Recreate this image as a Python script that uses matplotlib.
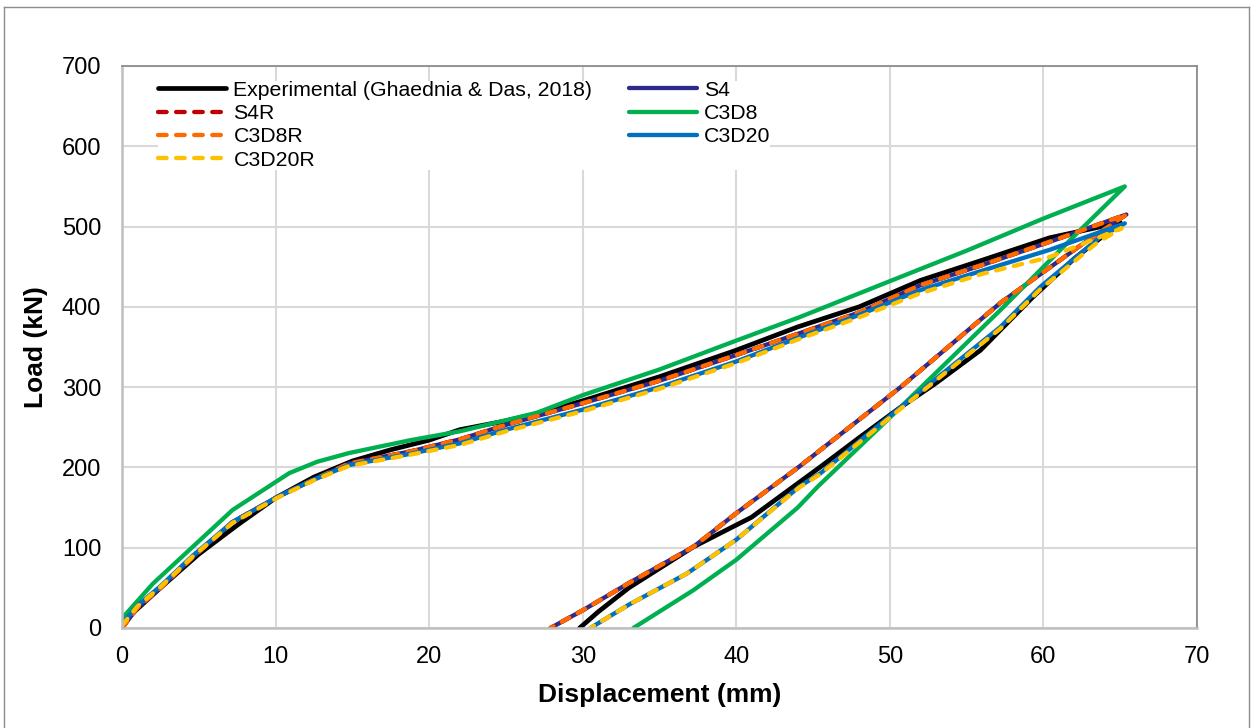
import matplotlib
matplotlib.use("Agg")
import matplotlib.pyplot as plt
from matplotlib.lines import Line2D

plt.rcParams['font.family'] = ['Liberation Sans', 'DejaVu Sans']

# ---------------- data (displacement mm, load kN) ----------------
exp_x = [0, 0.5, 2.5, 5, 7.5, 10, 12.5, 15, 17.5, 20, 22, 25, 27, 30, 35, 40, 44, 48, 52, 56, 60.4, 65,
         62, 59.3, 55.9, 53, 50.7, 48, 45.5, 41, 37.2, 33, 31, 29.8]
exp_y = [0, 15, 50, 92, 128, 162, 188, 208, 222, 234, 247, 258, 267, 283, 313, 346, 375, 400, 433, 458, 486, 505,
         460, 412, 346, 305, 275, 237, 201, 138, 101, 50, 20, 0]

s4_x = [0, 1, 2.5, 4.6, 7.2, 10.1, 12.5, 14.8, 18.8, 22, 25, 30, 35, 40, 44.1, 48, 52, 56, 60.4, 65.4,
        62.6, 57.2, 50.7, 44.1, 40, 37.2, 33.1, 30, 27.9]
s4_y = [0, 25, 50, 88, 132, 163, 185, 205, 220, 235, 253, 280, 308, 340, 367, 393, 427, 452, 481, 515,
        479, 405, 300, 201, 143, 101, 57, 22, 0]

s4r_x = [0, 1, 2.5, 4.6, 7.2, 10.1, 12.5, 14.8, 18.8, 22, 25, 30, 35, 40, 44.1, 48, 52, 56, 60.4, 65.4,
         62.6, 57.2, 50.7, 44.1, 40, 37.2, 33.1, 30, 27.9]
s4r_y = [0, 25, 50, 88, 132, 163, 185, 205, 220, 235, 253, 280, 308, 340, 367, 393, 427, 452, 481, 515,
         479, 405, 300, 201, 143, 101, 57, 22, 0]

c3d8_x = [0, 2, 4.6, 7.2, 10.9, 12.7, 14.8, 18.8, 22, 27, 30, 35, 40, 44.1, 50, 55, 60, 65.3,
          62.2, 57.2, 50, 45.3, 44, 40, 37.2, 33.3]
c3d8_y = [12, 55, 101, 147, 193, 207, 218, 234, 245, 268, 290, 322, 358, 387, 432, 470, 510, 550,
          492, 396, 262, 176, 150, 85, 47, 0]

c3d8r_x = [0, 1, 2.5, 4.6, 7.2, 10.1, 12.5, 14.8, 18.8, 22, 25, 30, 35, 40, 44.1, 48, 52, 56, 60.4, 65.4,
           62.6, 57.2, 50.7, 44.1, 40, 37.2, 33.1, 30, 27.9]
c3d8r_y = [0, 25, 50, 88, 132, 163, 185, 205, 220, 235, 253, 280, 308, 340, 367, 393, 427, 452, 481, 515,
           479, 405, 300, 201, 143, 101, 57, 22, 0]

c3d20_x = [0, 1, 2.5, 4.6, 7.2, 10.1, 12.5, 14.8, 18.8, 22, 25, 30, 35, 40, 44.1, 48, 52, 56, 60.4, 65.3,
           63.7, 59.8, 57.2, 50.7, 45.5, 44.1, 40, 36.8, 33, 30.5]
c3d20_y = [5, 28, 52, 90, 132, 163, 185, 203, 217, 230, 247, 272, 300, 332, 362, 390, 421, 445, 471, 504,
           487, 425, 375, 275, 193, 176, 110, 68, 29, 0]

c3d20r_x = [0, 1, 2.5, 4.6, 7.2, 10.1, 12.5, 14.8, 18.8, 22, 25, 30, 35, 40, 44.1, 48, 52, 56, 60.4, 65.1,
            63.5, 59.8, 57.2, 50.7, 45.5, 44.1, 40, 36.8, 33, 30.5]
c3d20r_y = [3, 27, 51, 89, 131, 162, 184, 202, 216, 228, 245, 270, 298, 330, 360, 387, 417, 441, 462, 498,
            480, 422, 373, 273, 192, 175, 110, 68, 29, 0]

x_ticks = [0, 10, 20, 30, 40, 50, 60, 70]
y_ticks = [0, 100, 200, 300, 400, 500, 600, 700]

# ---------------- figure ----------------
fig = plt.figure(figsize=(12.53, 7.28), dpi=100)
ax = fig.add_axes([122 / 1253, 1 - 628 / 728, 1075 / 1253, 562 / 728])

LW = 3.1
dash = (2.0, 2.2)
common_solid = dict(solid_joinstyle='round', solid_capstyle='round')
common_dash = dict(dash_capstyle='round', dash_joinstyle='round')

h_exp, = ax.plot(exp_x, exp_y, color='black', lw=3.4, label='Experimental (Ghaednia & Das, 2018)', **common_solid)
h_s4, = ax.plot(s4_x, s4_y, color='#2E2A8A', lw=LW, label='S4', **common_solid)
h_s4r, = ax.plot(s4r_x, s4r_y, color='#C00000', lw=LW, ls=(0, dash), label='S4R', **common_dash)
h_c3d8, = ax.plot(c3d8_x, c3d8_y, color='#00B050', lw=LW, label='C3D8', **common_solid)
h_c3d8r, = ax.plot(c3d8r_x, c3d8r_y, color='#FF6A00', lw=LW, ls=(0, dash), label='C3D8R', **common_dash)
h_c3d20, = ax.plot(c3d20_x, c3d20_y, color='#0070C0', lw=LW, label='C3D20', **common_solid)
h_c3d20r, = ax.plot(c3d20r_x, c3d20r_y, color='#FFC000', lw=LW, ls=(0, dash), label='C3D20R', **common_dash)

ax.set_xlim(0, 70)
ax.set_ylim(0, 700)
ax.set_xticks(x_ticks)
ax.set_yticks(y_ticks)
ax.tick_params(axis='both', length=0, labelsize=17, colors='black')
ax.tick_params(axis='x', pad=13)
ax.tick_params(axis='y', pad=15)
ax.grid(True, color='#D9D9D9', lw=1.5)
ax.set_axisbelow(True)

for side in ['left', 'bottom']:
    ax.spines[side].set_color('#BFBFBF')
    ax.spines[side].set_linewidth(1.8)
for side in ['top', 'right']:
    ax.spines[side].set_color('#8C8C8C')
    ax.spines[side].set_linewidth(1.3)

ax.set_xlabel('Displacement (mm)', fontsize=19, fontweight='bold', labelpad=11)
ax.set_ylabel('Load (kN)', fontsize=19, fontweight='bold', labelpad=10)

handles = [h_exp, h_s4r, h_c3d8r, h_c3d20r, h_s4, h_c3d8, h_c3d20]
leg = ax.legend(handles=handles, loc='upper left', bbox_to_anchor=(0.0335, 0.9735), ncol=2,
                fontsize=15.3, frameon=True, fancybox=False, edgecolor='none', facecolor='white',
                framealpha=1, borderpad=0, borderaxespad=0, handlelength=3.2, handletextpad=0.35,
                columnspacing=1.7, labelspacing=0.2)

# outer figure border
fig.add_artist(Line2D([4 / 1253, 4 / 1253], [0, 1 - 7 / 728], transform=fig.transFigure, color='#8C8C8C', lw=1))
fig.add_artist(Line2D([4 / 1253, 1249 / 1253], [1 - 7 / 728, 1 - 7 / 728], transform=fig.transFigure, color='#8C8C8C', lw=1))
fig.add_artist(Line2D([1249 / 1253, 1249 / 1253], [0, 1 - 7 / 728], transform=fig.transFigure, color='#8C8C8C', lw=1))

fig.savefig('out.png', dpi=100)
